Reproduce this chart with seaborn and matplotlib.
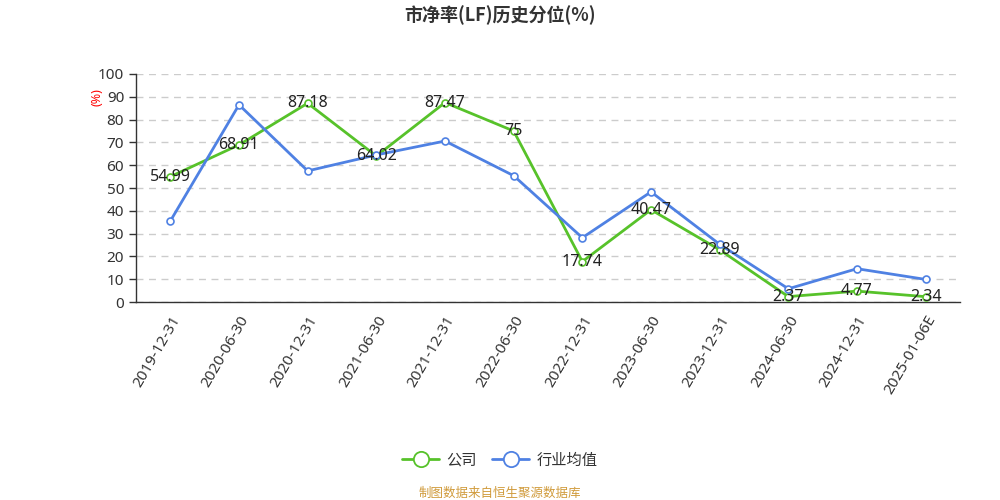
import matplotlib
matplotlib.use("Agg")
import matplotlib.pyplot as plt
import seaborn as sns
import pandas as pd
import numpy as np

categories = ["2019-12-31", "2020-06-30", "2020-12-31", "2021-06-30", "2021-12-31",
              "2022-06-30", "2022-12-31", "2023-06-30", "2023-12-31", "2024-06-30",
              "2024-12-31", "2025-01-06E"]
company = [54.99, 68.91, 87.18, 64.02, 87.47, 75, 17.74, 40.47, 22.89, 2.37, 4.77, 2.34]
industry = [35.5, 86.5, 57.5, 64.5, 70.6, 55.4, 28.2, 48.3, 25.3, 5.8, 14.6, 9.9]
series_names = ["公司", "行业均值"]
colors = ["#57c22a", "#4f81e3"]

sns.set_theme(style="white")
plt.rcParams['font.family'] = ['Noto Sans', 'Noto Sans CJK SC', 'DejaVu Sans']

df = pd.DataFrame({
    "date": categories * 2,
    "value": company + industry,
    "series": [series_names[0]] * len(categories) + [series_names[1]] * len(categories),
})
df["pos"] = list(range(len(categories))) * 2

fig = plt.figure(figsize=(10, 5), dpi=100)
ax = fig.add_axes([0.136, 0.396, 0.824, 0.456])

for name, col in zip(series_names, colors):
    sub = df[df["series"] == name]
    sns.lineplot(data=sub, x="pos", y="value", ax=ax, color=col, linewidth=2,
                 marker="o", markersize=5, markerfacecolor="white",
                 markeredgecolor=col, markeredgewidth=1.2, label=name, sort=False, zorder=3)

for i, v in enumerate(company):
    ax.text(i, v, f"{v:g}", ha="center", va="center", fontsize=11.5, color="#222222", zorder=5)

ax.set_xlim(-0.5, len(categories) - 0.5)
ax.set_ylim(0, 100)
ax.set_yticks(np.arange(0, 101, 10))
ax.set_yticklabels([str(t) for t in range(0, 101, 10)], fontsize=11, color="#333333")
ax.set_xticks(range(len(categories)))
ax.set_xticklabels(categories, rotation=60, ha="right", rotation_mode="anchor", fontsize=11, color="#333333")
ax.set_xticks(np.arange(-0.5, len(categories), 1), minor=True)
ax.tick_params(axis="x", which="major", length=0, pad=8)
ax.tick_params(axis="x", which="minor", length=5, color="#333333", width=1)
ax.tick_params(axis="y", length=5, color="#333333", width=1, left=True)
ax.grid(axis="y", linestyle=(0, (5, 4)), color="#cccccc", linewidth=1)
ax.set_axisbelow(True)
for s in ["top", "right"]:
    ax.spines[s].set_visible(False)
for s in ["left", "bottom"]:
    ax.spines[s].set_color("#333333")
    ax.spines[s].set_linewidth(1)
ax.set_xlabel("")
ax.set_ylabel("")
fig.text(0.097, 0.805, "(%)", color="red", rotation=90, ha="center", va="center", fontsize=9)

fig.text(0.5, 0.97, "市净率(LF)历史分位(%)", ha="center", va="center", fontsize=13,
         fontweight="bold", color="#333333", family=["Noto Sans CJK SC", "DejaVu Sans"])

leg = ax.legend(loc="center", bbox_to_anchor=((0.5 - 0.136) / 0.824, (1 - 461 / 500 - 0.396) / 0.456),
                ncol=2, frameon=False, fontsize=11, handlelength=2.4, columnspacing=1.0,
                handletextpad=0.5)
for h in leg.legend_handles:
    h.set_markersize(11)
    h.set_markeredgewidth(1.3)
for t in leg.get_texts():
    t.set_color("#333333")

fig.text(0.5, 1 - 493 / 500, "制图数据来自恒生聚源数据库", ha="center", va="center",
         fontsize=9, color="#d09a3a")

fig.savefig("out.png", dpi=100)
